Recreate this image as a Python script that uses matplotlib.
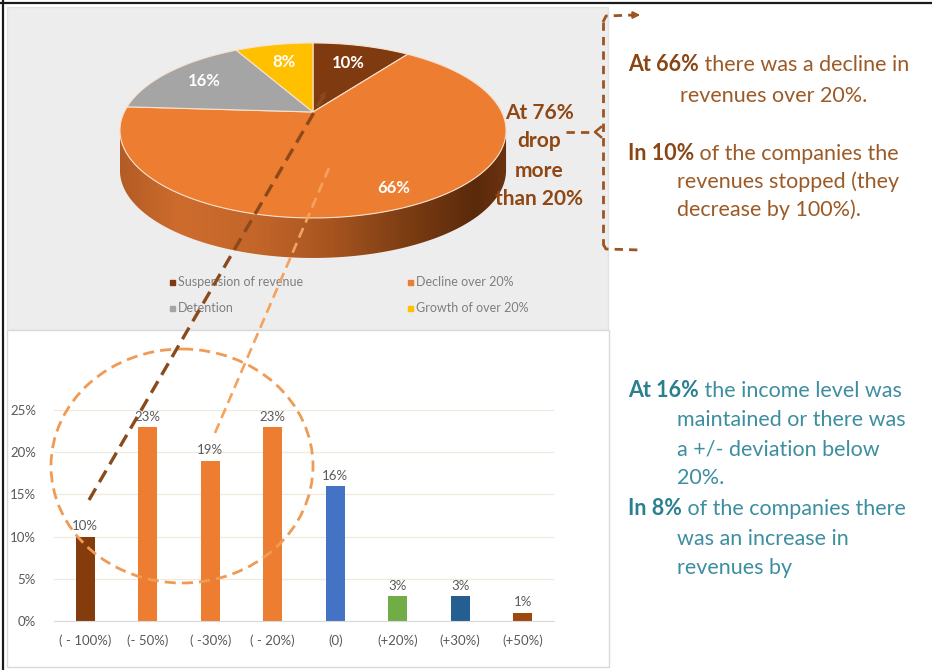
import numpy as np
import matplotlib
matplotlib.use("Agg")
import matplotlib.pyplot as plt
from matplotlib.patches import Polygon, Rectangle, Ellipse
from matplotlib.colors import LinearSegmentedColormap

plt.rcParams['font.family'] = ['Lato', 'DejaVu Sans']

# ---- pie: revenue change share ----
pie_labels = ["Suspension of revenue", "Decline over 20%", "Detention", "Growth of over 20%"]
pie_values = [10, 66, 16, 8]
pie_colors = ["#7f3a10", "#ed7d31", "#a5a5a5", "#ffc000"]

# ---- bars: distribution of revenue change ----
bar_categories = ["( - 100%)", "(- 50%)", "( -30%)", "( - 20%)", "(0)", "(+20%)", "(+30%)", "(+50%)"]
bar_values = [0.10, 0.23, 0.19, 0.23, 0.16, 0.03, 0.03, 0.01]
bar_colors = ["#843c0c", "#ed7d31", "#ed7d31", "#ed7d31", "#4472c4", "#70ad47", "#255e91", "#9e480e"]
y_ticks = [0, 0.05, 0.10, 0.15, 0.20, 0.25]

W, H = 932, 670
fig = plt.figure(figsize=(W / 100, H / 100), dpi=100)
fig.patch.set_facecolor("white")

bg = fig.add_axes([0, 0, 1, 1], zorder=0)
bg.set_xlim(0, W)
bg.set_ylim(H, 0)
bg.axis("off")

# frame lines and panels
bg.plot([0, W], [3, 3], color="#1a1a1a", lw=1.6, solid_capstyle="butt")
bg.plot([3, 3], [0, H], color="#1a1a1a", lw=1.6, solid_capstyle="butt")
bg.add_patch(Rectangle((7, 7), 601, 323, facecolor="#ededed", edgecolor="#e2e2e2", lw=1.0, zorder=1))
bg.add_patch(Rectangle((7, 330), 602, 337, facecolor="white", edgecolor="#d9d9d9", lw=1.0, zorder=1))

# ---- 3D pie (perspective projection of a tilted disc) ----
APEX = (313.0, 112.0)
A_PX, B_PX, K, DEPTH = 188.7, 83.6, 0.211, 40.0


def project(theta_deg, r=1.0):
    t = np.radians(theta_deg)
    u = r * np.cos(t)
    v = r * np.sin(t)
    d = 1 + K * v
    return APEX[0] + A_PX * u / d, APEX[1] - B_PX * v / d


# side wall with horizontal shading
th_s = np.degrees(np.arcsin(K))
arc = np.linspace(180 + th_s, 360 - th_s, 300)
sx, sy = project(arc)
side_pts = np.vstack([np.column_stack([sx, sy]),
                      np.column_stack([sx[::-1], sy[::-1] + DEPTH])])
side_patch = Polygon(side_pts, closed=True, facecolor="none", edgecolor="none", zorder=2)
bg.add_patch(side_patch)
side_cmap = LinearSegmentedColormap.from_list(
    "side", [(0, "#b35c25"), (0.15, "#cd6c2d"), (0.35, "#c4662a"), (0.55, "#a65420"),
             (0.75, "#7a3c12"), (0.92, "#5a2a0b"), (1, "#6b3210")])
grad = np.linspace(0, 1, 256).reshape(1, -1)
im = bg.imshow(grad, cmap=side_cmap, extent=(sx.min(), sx.max(), sy.max() + DEPTH, sy.min()),
               aspect="auto", zorder=2, interpolation="bilinear")
im.set_clip_path(side_patch)

# top face slices, clockwise from 12 o'clock
total = float(sum(pie_values))
start = 90.0
label_r = {0: 0.7, 1: 0.84, 2: 0.74, 3: 0.7}
for i, (val, col) in enumerate(zip(pie_values, pie_colors)):
    span = 360.0 * val / total
    th = np.linspace(start, start - span, max(int(span) * 2, 4))
    px, py = project(th)
    poly = np.vstack([[APEX], np.column_stack([px, py])])
    bg.add_patch(Polygon(poly, closed=True, facecolor=col, edgecolor="#f7e2cf", lw=0.8, zorder=3))
    mx, my = project(start - span / 2, label_r[i])
    bg.text(mx, my, f"{val}%", color="white", fontsize=12, fontweight="bold",
            ha="center", va="center", zorder=4)
    start -= span

# legend of the pie
leg_pos = [(172, 282), (410, 282), (172, 308), (410, 308)]
for (lx, ly), lab, col in zip(leg_pos, pie_labels, pie_colors):
    bg.plot(lx, ly, marker="s", ms=3.6, color=col, mec=col, zorder=4)
    bg.text(lx + 6, ly, lab, fontsize=9, color="#7f7f7f", ha="left", va="center", zorder=4)

# callout beside the pie
drop_color = "#8f4714"
for txt, yb in zip(["At 76%", "drop", "more", "than 20%"], [119, 147, 177, 205]):
    bg.text(539, yb, txt, fontsize=15, fontweight="bold", color=drop_color,
            ha="center", va="baseline", zorder=5)

# bracket on the right
br_col = "#9a5522"
dash = (0, (3.0, 2.2))
bg.plot([566, 594], [132, 132], color=br_col, lw=2, ls=dash, zorder=5)
bg.plot([601, 595, 601], [127, 132, 137], color=br_col, lw=1.8, zorder=5)
bg.plot([603, 603], [22, 244], color=br_col, lw=2, ls=dash, zorder=5)
bg.plot([603, 606, 634], [22, 16, 15], color=br_col, lw=2, ls=dash, zorder=5)
bg.annotate("", xy=(643, 15), xytext=(633, 15),
            arrowprops=dict(arrowstyle="-|>", color=br_col, lw=1.5, mutation_scale=10), zorder=5)
bg.plot([603, 606, 640], [244, 249, 250], color=br_col, lw=2, ls=dash, zorder=5)

# ---- bar chart ----
ax = fig.add_axes([54 / W, (H - 621) / H, 500 / W, 211 / H], zorder=1)
ax.set_facecolor("none")
x = np.arange(len(bar_categories))
bars = ax.bar(x, bar_values, width=0.31, color=bar_colors, zorder=2)
ax.set_xlim(-0.5, len(bar_categories) - 0.5)
ax.set_ylim(0, 0.25)
ax.set_yticks(y_ticks)
ax.set_yticklabels([f"{round(t * 100)}%" for t in y_ticks])
ax.set_xticks(x)
ax.set_xticklabels(bar_categories)
ax.yaxis.grid(True, color="#efeadb", lw=0.9)
ax.set_axisbelow(True)
for s in ["top", "right", "left"]:
    ax.spines[s].set_visible(False)
ax.spines["bottom"].set_color("#d9d9d9")
ax.tick_params(length=0, colors="#595959", labelsize=9.5)
ax.tick_params(axis="y", pad=13)
ax.tick_params(axis="x", pad=10)
for b, v in zip(bars, bar_values):
    ax.annotate(f"{round(v * 100)}%", (b.get_x() + b.get_width() / 2, v), xytext=(0, 3),
                textcoords="offset points", ha="center", va="bottom", fontsize=9.5,
                color="#595959", annotation_clip=False)

# ---- connectors drawn over both charts ----
ov = fig.add_axes([0, 0, 1, 1], zorder=5)
ov.set_xlim(0, W)
ov.set_ylim(H, 0)
ov.axis("off")
ov.patch.set_alpha(0)
ov.add_patch(Ellipse((182, 466), 262, 234, fill=False, ec="#ef9b55", lw=2, ls=(0, (4, 2.2))))
ov.plot([89, 323], [500, 97], color="#8b4a1c", lw=2.4, ls=(0, (4, 2.2)))
ov.annotate("", xy=(327, 89), xytext=(322, 98),
            arrowprops=dict(arrowstyle="-|>", color="#8b4a1c", lw=1.2, mutation_scale=8))
ov.plot([215, 329], [433, 168], color="#f4a25e", lw=1.9, ls=(0, (4, 2.2)))

# ---- explanatory text ----
renderer = fig.canvas.get_renderer()


def rich_line(x0, y0, parts, color_bold, color_reg, size=15.5):
    xx = x0
    for txt, bold in parts:
        t = bg.text(xx, y0, txt, fontsize=size, fontweight="bold" if bold else "normal",
                    color=color_bold if bold else color_reg, ha="left", va="baseline", zorder=5)
        xx += t.get_window_extent(renderer).width


brown_b, brown_r = "#8a4513", "#9c5a26"
teal_b, teal_r = "#2b7f90", "#3d8ea0"
rich_line(628, 71, [("At 66%", True), (" there was a decline in", False)], brown_b, brown_r)
rich_line(680, 102, [("revenues over 20%.", False)], brown_b, brown_r)
rich_line(628, 160, [("In 10%", True), (" of the companies the", False)], brown_b, brown_r)
rich_line(677, 188, [("revenues stopped (they", False)], brown_b, brown_r)
rich_line(677, 216, [("decrease by 100%).", False)], brown_b, brown_r)

rich_line(628, 397, [("At 16%", True), (" the income level was", False)], teal_b, teal_r)
rich_line(677, 426, [("maintained or there was", False)], teal_b, teal_r)
rich_line(677, 455, [("a +/- deviation below", False)], teal_b, teal_r)
rich_line(677, 484, [("20%.", False)], teal_b, teal_r)
rich_line(628, 515, [("In 8%", True), (" of the companies there", False)], teal_b, teal_r)
rich_line(677, 545, [("was an increase in", False)], teal_b, teal_r)
rich_line(677, 574, [("revenues by", False)], teal_b, teal_r)

bg.set_xlim(0, W)
bg.set_ylim(H, 0)
fig.savefig("out.png", dpi=100, facecolor="white")
